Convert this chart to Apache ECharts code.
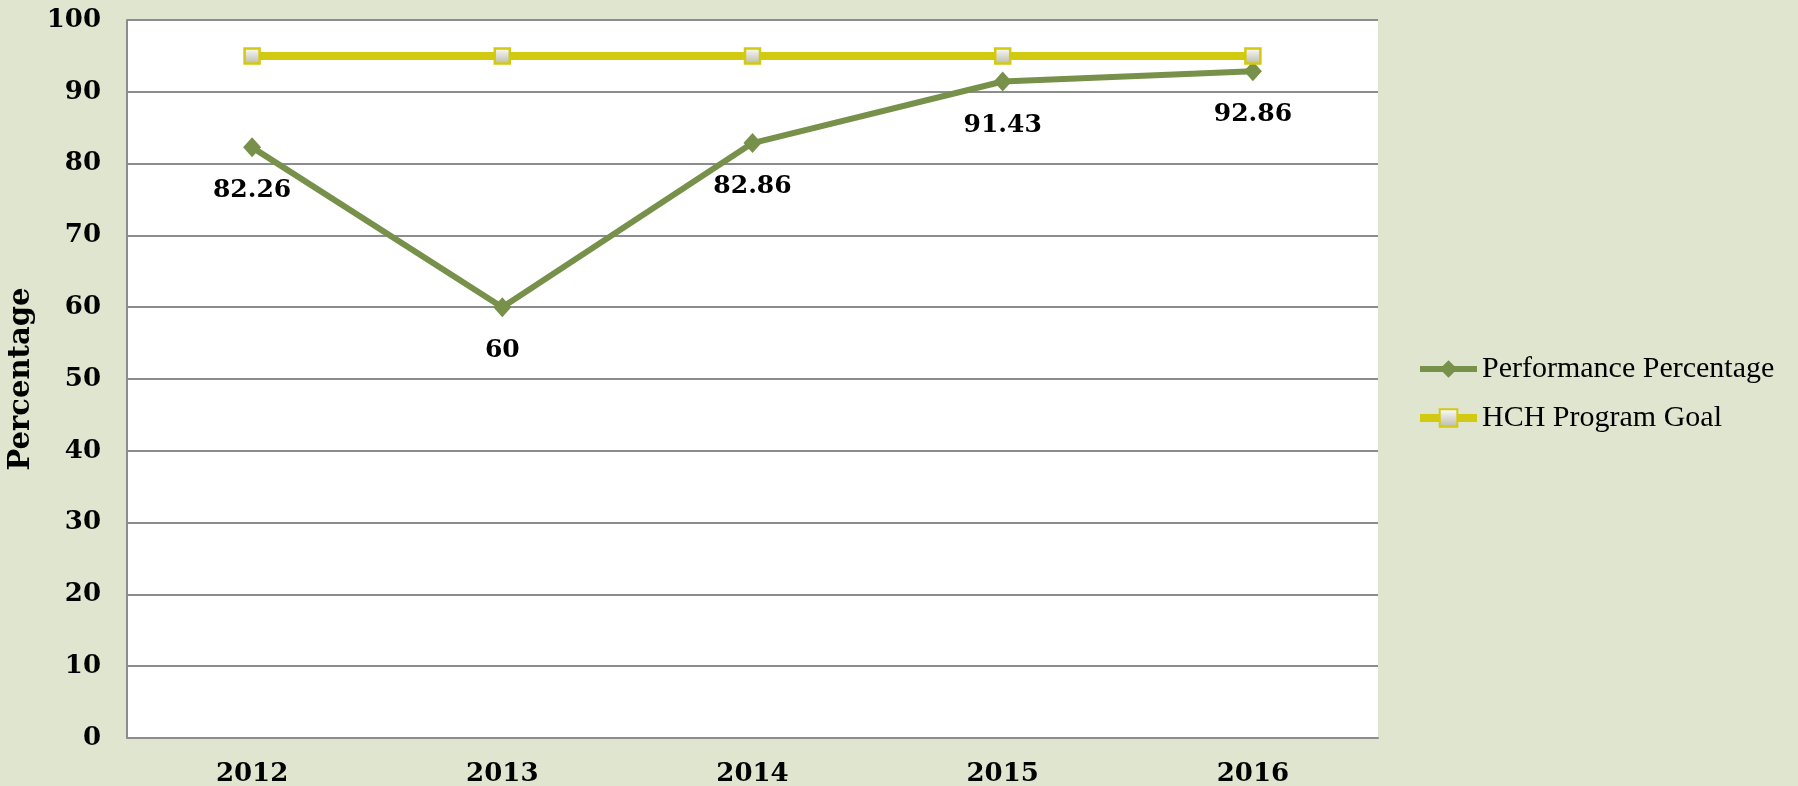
<!DOCTYPE html>
<html><head><meta charset="utf-8">
<script src="https://cdn.jsdelivr.net/npm/echarts@6/dist/echarts.min.js"></script>
<style>html,body{margin:0;padding:0;background:#dfe5cf;}#c{width:1798px;height:786px;}</style>
</head><body><div id="c"></div>
<script>
const categories = ['2012','2013','2014','2015','2016'];
const performance = [82.26, 60, 82.86, 91.43, 92.86];
const goal = [95, 95, 95, 95, 95];
const yTicks = [0,10,20,30,40,50,60,70,80,90,100];

const chart = echarts.init(document.getElementById('c'));
const boldFont = {fontFamily:'DejaVu Serif', fontWeight:'bold', fontSize:26, color:'#000'};
chart.setOption({
  backgroundColor:'#dfe5cf',
  animation:false,
  grid:{left:127, right:420, top:20, bottom:48, backgroundColor:'#fff', show:true, borderWidth:0, outerBoundsMode:'none', containLabel:false},
  legend:{
    orient:'vertical', left:1411, top:349, itemWidth:57, itemHeight:22, itemGap:19,
    textStyle:{fontFamily:'Liberation Serif', fontSize:30, color:'#000'},
    data:[
      {name:'Performance Percentage', lineStyle:{width:6, color:'#77904a'}},
      {name:'HCH Program Goal', lineStyle:{width:8, color:'#d2c911'}}
    ]
  },
  xAxis:{type:'category', data:categories, boundaryGap:true,
    axisLine:{lineStyle:{color:'#8c8c8c', width:2}}, axisTick:{show:false},
    axisLabel:Object.assign({margin:23}, boldFont)},
  yAxis:{type:'value', min:yTicks[0], max:yTicks[yTicks.length-1], interval:10,
    name:'Percentage', nameLocation:'middle', nameGap:87, nameRotate:90,
    nameTextStyle:{fontFamily:'DejaVu Serif', fontWeight:'bold', fontSize:29, color:'#000'},
    axisLine:{show:true, lineStyle:{color:'#8c8c8c', width:2}}, axisTick:{show:false},
    splitLine:{lineStyle:{color:'#8c8c8c', width:2}},
    axisLabel:Object.assign({margin:26}, boldFont)},
  series:[
    {name:'Performance Percentage', type:'line', data:performance, symbol:'diamond', symbolSize:[18,20],
     lineStyle:{color:'#77904a', width:6}, itemStyle:{color:'#77904a'},
     label:{show:true, position:'bottom', distance:21, fontFamily:'DejaVu Serif', fontWeight:'bold', fontSize:25, color:'#000'}},
    {name:'HCH Program Goal', type:'line', data:goal, symbol:'rect', symbolSize:15,
     lineStyle:{color:'#d2c911', width:8},
     itemStyle:{color:{type:'linear',x:0,y:0,x2:0,y2:1,colorStops:[{offset:0,color:'#ffffff'},{offset:1,color:'#b8b8a8'}]}, borderColor:'#d2c911', borderWidth:2.5}}
  ]
});
</script></body></html>
